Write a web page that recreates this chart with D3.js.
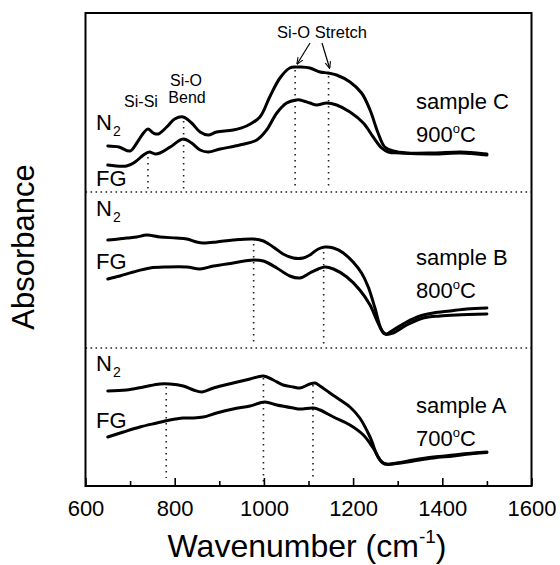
<!DOCTYPE html>
<html><head><meta charset="utf-8">
<script src="https://cdn.jsdelivr.net/npm/d3@7/dist/d3.min.js"></script>
<style>body{margin:0;background:#fff}svg{display:block}text{font-family:"Liberation Sans",Arial,Helvetica,sans-serif;fill:#000}</style>
</head><body><svg id="c" width="560" height="565"></svg>
<script>
// ---- data (absorbance in arbitrary offset units) ----
const majorTicks = [600, 800, 1000, 1200, 1400, 1600];
const minorTicks = [700, 900, 1100, 1300, 1500];

const wnC_N2 = [650,675,700,715,730,740,752,763,782,800,819,838,857,875,894,931,961,991,1013,1036,1058,1073,1081,1103,1126,1144,1163,1193,1219,1238,1256,1271,1290,1320,1380,1440,1477,1500];
const absC_N2 = [3.40,3.39,3.35,3.43,3.53,3.57,3.53,3.52,3.59,3.67,3.69,3.63,3.54,3.51,3.54,3.56,3.60,3.69,3.89,4.08,4.18,4.19,4.19,4.18,4.14,4.13,4.11,4.04,3.93,3.76,3.53,3.39,3.35,3.33,3.33,3.34,3.33,3.32];
const wnC_FG = [650,692,711,730,743,756,767,790,819,838,857,875,902,946,984,1006,1029,1051,1073,1081,1103,1118,1141,1163,1193,1223,1245,1264,1279,1305,1380,1440,1477,1500];
const absC_FG = [3.21,3.20,3.24,3.31,3.34,3.32,3.33,3.39,3.47,3.43,3.36,3.34,3.37,3.41,3.46,3.56,3.73,3.83,3.86,3.86,3.83,3.81,3.83,3.81,3.74,3.63,3.49,3.38,3.34,3.33,3.32,3.33,3.32,3.31];

const wnB_N2 = [650,674,692,715,737,767,804,827,849,864,894,931,976,999,1021,1043,1066,1088,1103,1122,1137,1156,1178,1200,1219,1234,1249,1264,1274,1290,1320,1350,1380,1417,1455,1500];
const absB_N2 = [2.46,2.47,2.48,2.49,2.51,2.49,2.48,2.47,2.44,2.43,2.44,2.46,2.47,2.45,2.39,2.32,2.28,2.28,2.31,2.37,2.39,2.38,2.33,2.24,2.13,1.99,1.78,1.56,1.52,1.56,1.64,1.70,1.73,1.75,1.77,1.78];
const wnB_FG = [650,677,707,745,782,827,857,887,931,976,999,1029,1058,1081,1103,1122,1137,1156,1186,1215,1238,1256,1271,1290,1320,1357,1395,1432,1500];
const absB_FG = [2.07,2.10,2.14,2.18,2.19,2.19,2.17,2.20,2.23,2.26,2.25,2.18,2.10,2.08,2.13,2.17,2.19,2.17,2.09,1.96,1.81,1.63,1.52,1.53,1.61,1.68,1.70,1.71,1.72];

const wnA_N2 = [650,692,730,767,789,819,842,861,887,931,969,999,1021,1043,1066,1081,1103,1115,1126,1148,1171,1193,1215,1238,1256,1271,1298,1335,1380,1425,1470,1500];
const absA_N2 = [0.95,0.96,0.99,1.02,1.02,1.00,0.96,0.94,0.98,1.03,1.07,1.10,1.06,1.01,0.99,0.98,1.02,1.03,1.00,0.93,0.86,0.79,0.68,0.49,0.29,0.22,0.23,0.26,0.29,0.31,0.33,0.34];
const wnA_FG = [650,685,722,760,789,819,842,864,894,931,969,1002,1029,1066,1081,1111,1126,1156,1193,1223,1245,1264,1275,1298,1335,1380,1425,1470,1500];
const absA_FG = [0.49,0.54,0.59,0.63,0.66,0.68,0.68,0.69,0.73,0.77,0.80,0.84,0.81,0.78,0.77,0.78,0.76,0.69,0.61,0.51,0.38,0.24,0.22,0.225,0.25,0.28,0.30,0.325,0.335];

// dotted peak markers: wavenumber, top and bottom absorbance
const markWn  = [740, 820, 1070, 1145, 977, 1134, 781, 999, 1110];
const markTop = [3.29, 3.65, 4.16, 4.10, 2.42, 2.34, 0.99, 1.08, 1.01];
const markBot = [2.96, 2.96, 2.96, 2.96, 1.40, 1.40, 0.08, 0.03, 0.08];
const separators = [2.94, 1.38];

const sampleNames = ["sample C", "sample B", "sample A"];
const sampleTemps = ["900", "800", "700"];

// ---- layout ----
const L = 85.5, R = 531.5, T = 13, B = 486;
const x = d3.scaleLinear().domain([600, 1600]).range([L, R]);
const y = d3.scaleLinear().domain([0, 4.73]).range([B, T]);
const svg = d3.select("#c");

// separators
svg.selectAll("line.sep").data(separators).join("line")
  .attr("x1", L).attr("x2", R).attr("y1", d => y(d)).attr("y2", d => y(d))
  .attr("stroke", "#222").attr("stroke-width", 1.6).attr("stroke-dasharray", "1.6,3.4");

// markers
svg.selectAll("line.mk").data(markWn).join("line")
  .attr("x1", d => x(d)).attr("x2", d => x(d))
  .attr("y1", (d, i) => y(markTop[i])).attr("y2", (d, i) => y(markBot[i]))
  .attr("stroke", "#222").attr("stroke-width", 1.6).attr("stroke-dasharray", "1.6,4.4");

// curves
const series = [
  [wnC_N2, absC_N2], [wnC_FG, absC_FG],
  [wnB_N2, absB_N2], [wnB_FG, absB_FG],
  [wnA_N2, absA_N2], [wnA_FG, absA_FG]
];
const line = d3.line().x(d => x(d[0])).y(d => y(d[1])).curve(d3.curveCatmullRom.alpha(0.5));
series.forEach(([w, a]) => {
  svg.append("path").attr("d", line(w.map((v, i) => [v, a[i]])))
    .attr("fill", "none").attr("stroke", "#000").attr("stroke-width", 3)
    .attr("stroke-linejoin", "round").attr("stroke-linecap", "round");
});

// frame
svg.append("rect").attr("x", L).attr("y", T).attr("width", R - L).attr("height", B - T)
  .attr("fill", "none").attr("stroke", "#000").attr("stroke-width", 2);

// axes
const ax = svg.append("g").attr("transform", `translate(0,${B})`)
  .call(d3.axisBottom(x).tickValues(majorTicks).tickSize(-8).tickPadding(14).tickFormat(d3.format("d")));
ax.select(".domain").remove();
ax.selectAll(".tick line").attr("stroke-width", 1.6);
ax.selectAll("text").attr("font-size", 22).attr("fill", "#000").attr("dy", "0.71em");
const ax2 = svg.append("g").attr("transform", `translate(0,${B})`)
  .call(d3.axisBottom(x).tickValues(minorTicks).tickSize(-5).tickFormat(""));
ax2.select(".domain").remove();
ax2.selectAll(".tick line").attr("stroke-width", 1.6);

// axis titles
const xt = svg.append("text").attr("x", 307).attr("y", 557).attr("text-anchor", "middle").attr("font-size", 32);
xt.append("tspan").text("Wavenumber  (cm");
xt.append("tspan").attr("font-size", 19).attr("dy", -14).text("-1");
xt.append("tspan").attr("dy", 14).text(")");
svg.append("text").attr("transform", "translate(34,247) rotate(-90)").attr("text-anchor", "middle")
  .attr("font-size", 31).text("Absorbance");

// N2 / FG labels
const labN2 = [3.56, 2.70, 1.15];
const labFG = [3.00, 2.17, 0.58];
labN2.forEach(v => {
  const t = svg.append("text").attr("x", 96).attr("y", y(v)).attr("font-size", 22);
  t.append("tspan").text("N");
  t.append("tspan").attr("font-size", 14).attr("dy", 6).attr("dx", 1).text("2");
});
labFG.forEach(v => svg.append("text").attr("x", 96).attr("y", y(v)).attr("font-size", 22).text("FG"));

// sample labels
const sampleY = [3.77, 2.21, 0.73];
sampleNames.forEach((n, i) => {
  svg.append("text").attr("x", 416).attr("y", y(sampleY[i])).attr("font-size", 22).text(n);
  const t = svg.append("text").attr("x", 416).attr("y", y(sampleY[i] - 0.33)).attr("font-size", 22);
  t.append("tspan").text(sampleTemps[i]);
  t.append("tspan").attr("font-size", 13).attr("dy", -9).text("o");
  t.append("tspan").attr("dy", 9).text("C");
});

// peak annotations
svg.append("text").attr("x", 141).attr("y", 107).attr("text-anchor", "middle").attr("font-size", 16).text("Si-Si");
svg.append("text").attr("x", 186).attr("y", 86).attr("text-anchor", "middle").attr("font-size", 16).text("Si-O");
svg.append("text").attr("x", 187).attr("y", 103).attr("text-anchor", "middle").attr("font-size", 16).text("Bend");
svg.append("text").attr("x", 322).attr("y", 38).attr("text-anchor", "middle").attr("font-size", 16.5).text("Si-O Stretch");

// arrows
const defs = svg.append("defs");
defs.append("marker").attr("id", "ah").attr("viewBox", "0 0 10 10").attr("refX", 9).attr("refY", 5)
  .attr("markerWidth", 7).attr("markerHeight", 7).attr("orient", "auto-start-reverse").attr("markerUnits", "userSpaceOnUse")
  .append("path").attr("d", "M0,1 L10,5 L0,9").attr("fill", "none").attr("stroke", "#000").attr("stroke-width", 1.5);
svg.append("line").attr("x1", 310).attr("y1", 43).attr("x2", x(1070) + 2).attr("y2", y(4.22))
  .attr("stroke", "#000").attr("stroke-width", 1.2).attr("marker-end", "url(#ah)");
svg.append("line").attr("x1", 322).attr("y1", 43).attr("x2", x(1145) + 1).attr("y2", y(4.18))
  .attr("stroke", "#000").attr("stroke-width", 1.2).attr("marker-end", "url(#ah)");
</script></body></html>
